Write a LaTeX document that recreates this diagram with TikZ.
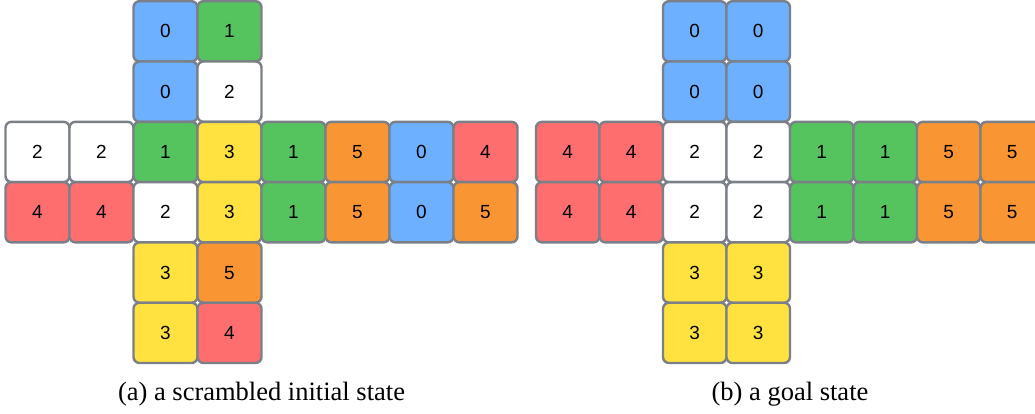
\documentclass[tikz,border=0pt]{standalone}
\usepackage{fontspec}
\setmainfont{Liberation Serif}
\newfontfamily\cellfont{Liberation Sans}
\definecolor{cellborder}{HTML}{7A7F88}
\definecolor{c0}{HTML}{6CB0FF}
\definecolor{c1}{HTML}{55C45F}
\definecolor{c2}{HTML}{FFFFFF}
\definecolor{c3}{HTML}{FFE23F}
\definecolor{c4}{HTML}{FF6E6E}
\definecolor{c5}{HTML}{FA9533}
\begin{document}
\begin{tikzpicture}[x=1pt,y=-1pt,
  cell/.style={draw=cellborder,line width=2.4pt,rounded corners=6pt,inner sep=0pt,outer sep=0pt,
    minimum height=60.3pt,font=\cellfont\fontsize{19}{19}\selectfont,text=black},
  captiontext/.style={font=\fontsize{26.5}{30}\selectfont,inner sep=0pt,anchor=base}]
\useasboundingbox (0,0) rectangle (1035,413);
% (a) scrambled initial state
\foreach \c/\r/\v in {2/0/0,3/0/1,2/1/0,3/1/2,
  0/2/2,1/2/2,2/2/1,3/2/3,4/2/1,5/2/5,6/2/0,7/2/4,
  0/3/4,1/3/4,2/3/2,3/3/3,4/3/1,5/3/5,6/3/0,7/3/5,
  2/4/3,3/4/5,2/5/3,3/5/4}
  \node[cell,minimum width=64pt,fill=c\v] (a-\r-\c) at ({5.5+64*(\c+0.5)},{1.2+60.3*(\r+0.5)}) {\v};
% (b) goal state
\foreach \c/\r/\v in {2/0/0,3/0/0,2/1/0,3/1/0,
  0/2/4,1/2/4,2/2/2,3/2/2,4/2/1,5/2/1,6/2/5,7/2/5,
  0/3/4,1/3/4,2/3/2,3/3/2,4/3/1,5/3/1,6/3/5,7/3/5,
  2/4/3,3/4/3,2/5/3,3/5/3}
  \node[cell,minimum width=63.5pt,fill=c\v] (b-\r-\c) at ({536+63.5*(\c+0.5)},{1.2+60.3*(\r+0.5)}) {\v};
\node[captiontext] (capa) at (261.5,400) {(a) a scrambled initial state};
\node[captiontext] (capb) at (790,400) {(b) a goal state};
\end{tikzpicture}
\end{document}
